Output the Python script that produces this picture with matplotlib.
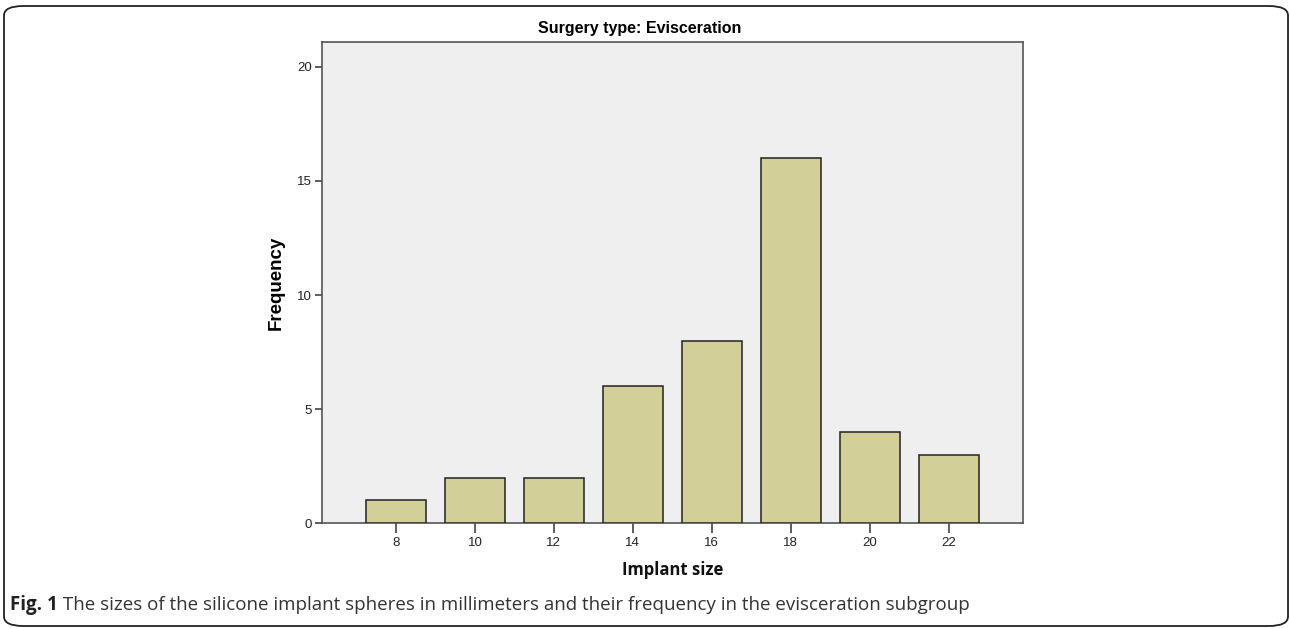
import matplotlib
matplotlib.use("Agg")
import matplotlib.pyplot as plt
from matplotlib.patches import FancyBboxPatch

sizes = [8, 10, 12, 14, 16, 18, 20, 22]
freq = [1, 2, 2, 6, 8, 16, 4, 3]
yticks = [0, 5, 10, 15, 20]

title = "Surgery type: Evisceration"
xlabel = "Implant size"
ylabel = "Frequency"
cap_bold = "Fig. 1"
cap_rest = " The sizes of the silicone implant spheres in millimeters and their frequency in the evisceration subgroup"

W, H = 1290, 628
fig = plt.figure(figsize=(W/100, H/100), dpi=100)

# axes in pixel coordinates
left, right, top, bottom = 321.7, 1023, 41.7, 523.3
ax = fig.add_axes([left/W, 1-bottom/H, (right-left)/W, (bottom-top)/H])
ax.set_facecolor("#EFEFEF")
ax.bar(sizes, freq, width=1.51, color="#D3CF98", edgecolor="#222222", linewidth=1.1, zorder=3)
ax.set_xlim(6.12, 23.88)
ax.set_ylim(0, 21.1)
ax.set_xticks(sizes)
ax.set_yticks(yticks)
for s in ax.spines.values():
    s.set_color("#555555")
    s.set_linewidth(1.2)
ax.tick_params(axis="x", length=7, width=1.2, color="#444444", labelsize=9.5, pad=3)
ax.tick_params(axis="y", length=5, width=1.2, color="#444444", labelsize=9.5, pad=2)
for lab in ax.get_xticklabels() + ax.get_yticklabels():
    lab.set_fontfamily("Liberation Sans")
    lab.set_color("#222222")

fig.text(640/W, 1-29/H, title, ha="center", va="center", fontsize=11.5,
         fontweight="bold", family="Liberation Sans")
fig.text(276/W, 1-283/H, ylabel, ha="center", va="center", rotation=90,
         fontsize=13.5, fontweight="bold", family="Liberation Sans")
fig.text(673/W, 1-570/H, xlabel, ha="center", va="center", fontsize=12,
         fontweight="bold", family="Open Sans", color="#111111")

t1 = fig.text(10/W, 1-605/H, cap_bold, ha="left", va="center", fontsize=13.5,
              fontweight="bold", family="Open Sans", color="#222222")
fig.canvas.draw()
bb = t1.get_window_extent()
fig.text(bb.x1/W, 1-605/H, cap_rest, ha="left", va="center", fontsize=13.5,
         family="Open Sans", color="#333333")

frame = FancyBboxPatch((4/W, 2/H), (1288-4)/W, (622-2)/H,
                       boxstyle="round,pad=0,rounding_size=0.015",
                       transform=fig.transFigure, fill=False,
                       edgecolor="#222222", linewidth=1.3)
fig.patches.append(frame)

fig.savefig("out.png", dpi=100)
